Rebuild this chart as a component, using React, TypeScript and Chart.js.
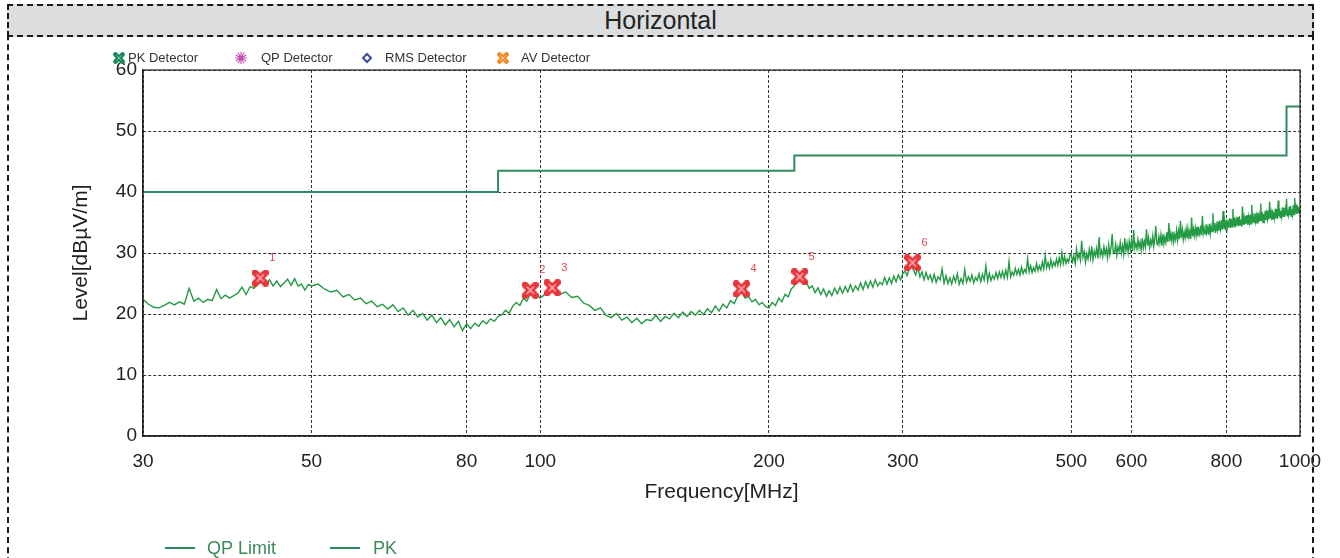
import React, { useEffect, useRef } from "react";
import { Chart, registerables } from "chart.js";

Chart.register(...registerables);

const FONT = "'Liberation Sans', Arial, Helvetica, sans-serif";

// ---------- data ----------
const xTickValues = [30, 50, 80, 100, 200, 300, 500, 600, 800, 1000];
const yMin = 0;
const yMax = 60;
const yStep = 10;

const limitFreqs = [30, 88, 216, 960, 1000];
const limitLevels = [40, 43.5, 46, 54, 54];

const markerFreqs = [42.8, 97.0, 103.7, 184.0, 219.5, 309.0];
const markerLevels = [25.9, 23.9, 24.3, 24.1, 26.1, 28.4];
const markerLabels = ["1", "2", "3", "4", "5", "6"];

const detectorLegend = ["PK Detector", "QP Detector", "RMS Detector", "AV Detector"];
const lineLegend = ["QP Limit", "PK"];

// PK trace: [frequency MHz, level dBµV/m]
const pkTrace: [number, number][] = [
  [30, 22.4], [30.5, 21.6], [31, 21.1], [31.5, 21.0], [32, 21.4], [32.5, 21.9], [33, 21.5], [33.5, 22.0],
  [34, 21.6], [34.5, 24.2], [35, 22.1], [35.5, 22.6], [36, 21.9], [36.5, 22.4], [37, 22.2], [37.5, 24.0],
  [38, 22.5], [38.5, 23.1], [39, 22.6], [39.5, 23.0], [40, 23.4], [40.5, 24.4], [41, 23.2], [41.5, 24.5],
  [42, 24.2], [42.5, 24.9], [43, 25.3], [43.5, 24.8], [44, 25.6], [44.5, 24.6], [45, 25.4], [45.5, 24.5],
  [46, 25.1], [46.5, 25.7], [47, 24.7], [47.5, 25.8], [48, 24.6], [48.5, 24.9], [49, 23.9], [49.5, 24.8],
  [50, 24.6],
  [51, 24.9], [52, 24.1], [53, 23.6], [54, 23.9], [55, 22.8], [56, 23.2], [57, 22.3], [58, 22.6],
  [59, 21.7], [60, 22.1], [61, 21.2], [62, 21.6], [63, 20.8], [64, 21.5], [65, 20.4], [66, 21.0],
  [67, 19.8], [68, 20.6], [69, 19.5], [70, 20.1], [71, 19.0], [72, 19.8], [73, 18.6], [74, 19.4],
  [75, 18.2], [76, 19.1], [77, 17.9], [78, 18.8], [79, 17.3], [80, 18.4], [81, 17.6], [82, 18.5],
  [83, 18.0], [84, 18.9], [85, 18.4], [86, 19.2], [87, 18.8], [88, 19.6], [89, 19.9], [90, 20.6],
  [91, 20.1], [92, 21.3], [93, 21.9], [94, 21.4], [95, 22.6], [96, 22.1], [97, 23.3], [98, 22.7],
  [99, 23.1], [100, 22.6],
  [102, 23.5], [104, 24.0], [106, 23.2], [108, 23.6], [110, 22.7], [112, 22.9], [114, 21.8], [116, 21.4],
  [118, 20.6], [120, 21.0], [122, 19.8], [124, 19.4], [126, 20.1], [128, 19.0], [130, 19.5], [132, 18.6],
  [134, 19.3], [136, 18.4], [138, 19.1], [140, 18.9], [142, 19.8], [144, 18.8], [146, 19.6], [148, 19.2],
  [150, 20.1], [152, 19.4], [154, 20.3], [156, 19.6], [158, 20.4], [160, 19.8], [162, 20.6], [164, 19.9],
  [166, 20.9], [168, 20.2], [170, 21.3], [172, 20.5], [174, 21.6], [176, 21.0], [178, 22.2], [180, 21.7],
  [182, 23.0], [184, 23.7], [186, 22.6], [188, 22.9], [190, 22.0], [192, 22.4], [194, 21.5], [196, 21.9],
  [198, 21.2], [200, 21.0],
  [202, 21.9], [204, 21.4], [206, 22.6], [208, 22.0], [210, 23.2], [212, 22.8], [214, 24.1], [216, 24.6],
  [218, 25.5], [220, 25.8], [222, 24.9], [224, 25.2], [226, 24.2], [228, 24.6], [230, 23.5], [232, 24.3],
  [234, 23.2], [236, 24.1], [238, 22.9], [240, 23.8], [242, 23.0], [244, 24.2], [246, 23.3], [248, 24.4],
  [250, 23.4], [252, 24.5], [254, 23.6], [256, 24.8], [258, 23.7], [260, 24.6], [262, 23.9], [264, 25.1],
  [266, 24.0], [268, 25.3], [270, 24.3], [272, 25.4], [274, 24.4], [276, 25.6], [278, 24.6], [280, 25.2],
  [282, 24.8], [284, 26.0], [286, 24.9], [288, 25.9], [290, 25.0], [292, 26.2], [294, 25.3], [296, 26.4],
  [298, 25.6],
  [300, 26.6], [302, 27.0], [304, 26.3], [306, 27.5], [308, 27.9], [310, 27.2], [312, 26.4], [314, 27.6],
  [316, 26.1], [318, 26.9], [320, 25.6], [322, 26.8], [324, 25.7], [326, 26.4], [328, 25.3], [330, 26.5],
  [332, 25.2], [334, 26.1], [336, 25.6], [338, 27.4], [340, 25.1], [342, 26.3], [344, 25.0], [346, 25.9],
  [348, 24.9], [350, 26.2], [352, 25.3], [354, 26.6], [356, 24.9], [358, 25.8], [360, 25.0], [362, 27.3],
  [364, 25.2], [366, 26.1], [368, 25.4], [370, 26.4], [372, 25.1], [374, 26.0], [376, 25.5], [378, 26.6],
  [380, 25.3], [382, 26.5], [384, 25.6], [386, 27.9], [388, 25.4], [390, 26.7], [392, 25.5], [394, 26.3],
  [396, 25.7], [398, 26.8], [400, 25.8], [402, 26.9], [404, 26.0], [406, 27.0], [408, 25.9], [410, 27.2],
  [412, 26.0], [414, 28.6], [416, 26.1], [418, 26.9], [420, 26.3], [422, 27.5], [424, 26.5], [426, 27.3],
  [428, 26.4], [430, 27.7], [432, 26.6], [434, 27.3], [436, 26.8], [438, 29.1], [440, 26.9], [442, 27.9],
  [444, 26.8], [446, 27.6], [448, 27.0], [450, 28.3], [452, 27.1], [454, 27.9], [456, 27.2], [458, 28.5],
  [460, 27.4], [462, 29.6], [464, 27.6], [466, 28.4], [468, 27.5], [470, 28.9], [472, 27.7], [474, 28.5],
  [476, 27.9], [478, 29.0], [480, 28.0], [482, 29.2], [484, 28.1], [486, 30.1], [488, 28.3], [490, 29.4],
  [492, 28.3], [494, 29.0], [496, 28.5], [498, 29.6],
  [500, 29.8], [502, 28.6], [504, 29.5], [506, 28.3], [508, 30.7], [510, 29.1], [512, 29.9], [514, 28.8],
  [516, 32.0], [518, 29.3], [520, 30.2], [522, 28.5], [524, 29.9], [526, 29.0], [528, 30.6], [530, 29.2],
  [532, 31.1], [534, 28.9], [536, 30.3], [538, 29.5], [540, 30.8], [542, 29.1], [544, 32.6], [546, 29.6],
  [548, 30.4], [550, 29.4], [552, 31.0], [554, 29.8], [556, 30.7], [558, 29.2], [560, 31.3], [562, 29.7],
  [564, 30.9], [566, 33.1], [568, 29.9], [570, 30.1], [572, 31.4], [574, 29.6], [576, 31.0], [578, 30.3],
  [580, 31.7], [582, 30.0], [584, 31.2], [586, 29.8], [588, 32.4], [590, 30.4], [592, 31.6], [594, 30.1],
  [596, 31.9], [598, 30.6], [600, 32.0], [602, 30.3], [604, 33.8], [606, 30.8], [608, 31.5], [610, 30.7],
  [612, 32.2], [614, 30.9], [616, 31.8], [618, 30.5], [620, 32.4], [622, 30.8], [624, 31.9], [626, 31.0],
  [628, 33.9], [630, 31.2], [632, 32.5], [634, 30.9], [636, 32.1], [638, 31.4], [640, 32.8], [642, 31.1],
  [644, 32.3], [646, 34.4], [648, 31.5], [650, 31.3], [652, 32.7], [654, 31.6], [656, 33.0], [658, 31.2],
  [660, 33.1], [662, 31.5], [664, 32.6], [666, 31.7], [668, 33.4], [670, 31.8], [672, 34.9], [674, 31.9],
  [676, 33.2], [678, 32.0], [680, 33.5], [682, 31.8], [684, 33.0], [686, 32.2], [688, 33.7], [690, 32.1],
  [692, 33.6], [694, 32.3], [696, 35.3], [698, 32.5], [700, 33.8], [702, 32.2], [704, 33.4], [706, 32.5],
  [708, 33.9], [710, 32.4], [712, 34.0], [714, 32.6], [716, 33.5], [718, 32.3], [720, 35.8], [722, 32.7],
  [724, 33.9], [726, 32.8], [728, 34.1], [730, 32.9], [732, 34.3], [734, 32.7], [736, 33.8], [738, 33.1],
  [740, 34.5], [742, 32.9], [744, 36.1], [746, 33.2], [748, 34.0], [750, 33.1], [752, 34.7], [754, 33.4],
  [756, 34.2], [758, 33.0], [760, 34.8], [762, 33.2], [764, 34.4], [766, 33.5], [768, 36.5], [770, 33.6],
  [772, 34.9], [774, 33.3], [776, 34.6], [778, 33.8], [780, 35.2], [782, 33.6], [784, 34.8], [786, 33.9],
  [788, 35.4], [790, 33.8], [792, 36.9], [794, 34.0], [796, 35.1], [798, 33.7], [800, 35.5], [802, 34.0],
  [804, 35.0], [806, 34.2], [808, 35.7], [810, 34.1], [812, 35.6], [814, 34.3], [816, 37.2], [818, 34.4],
  [820, 35.8], [822, 34.2], [824, 35.4], [826, 34.5], [828, 35.9], [830, 34.4], [832, 36.0], [834, 34.6],
  [836, 35.5], [838, 34.3], [840, 37.6], [842, 34.6], [844, 35.8], [846, 34.7], [848, 36.1], [850, 34.8],
  [852, 36.2], [854, 34.6], [856, 35.9], [858, 35.0], [860, 36.3], [862, 34.8], [864, 37.9], [866, 35.1],
  [868, 35.9], [870, 35.0], [872, 36.5], [874, 35.2], [876, 36.1], [878, 34.9], [880, 36.6], [882, 35.1],
  [884, 36.2], [886, 35.3], [888, 38.1], [890, 35.3], [892, 36.7], [894, 35.0], [896, 36.4], [898, 35.6],
  [900, 36.9], [902, 35.4], [904, 36.5], [906, 35.6], [908, 37.0], [910, 35.5], [912, 38.4], [914, 35.7],
  [916, 36.6], [918, 35.4], [920, 37.1], [922, 35.6], [924, 36.7], [926, 35.8], [928, 37.3], [930, 35.8],
  [932, 37.2], [934, 35.6], [936, 38.6], [938, 36.0], [940, 37.3], [942, 35.8], [944, 36.9], [946, 36.0],
  [948, 37.5], [950, 36.0], [952, 37.4], [954, 35.9], [956, 37.0], [958, 36.2], [960, 38.9], [962, 36.1],
  [964, 37.1], [966, 36.3], [968, 37.6], [970, 36.2], [972, 37.7], [974, 36.0], [976, 37.2], [978, 36.4],
  [980, 37.8], [982, 36.3], [984, 39.0], [986, 36.5], [988, 37.4], [990, 36.4], [992, 37.9], [994, 36.6],
  [996, 37.5], [998, 36.8], [1000, 37.4],
];

// ---------- drawing helpers ----------
function drawCrossMark(ctx: CanvasRenderingContext2D, x: number, y: number, s: number, color: string, inner: string) {
  ctx.save();
  ctx.lineCap = "round";
  ctx.strokeStyle = color;
  ctx.lineWidth = s * 0.42;
  const h = s * 0.33;
  ctx.beginPath();
  ctx.moveTo(x - h, y - h); ctx.lineTo(x + h, y + h);
  ctx.moveTo(x + h, y - h); ctx.lineTo(x - h, y + h);
  ctx.stroke();
  ctx.strokeStyle = inner;
  ctx.lineWidth = Math.max(1, s * 0.09);
  const k = s * 0.2;
  ctx.beginPath();
  ctx.moveTo(x - k, y - k); ctx.lineTo(x + k, y + k);
  ctx.moveTo(x + k, y - k); ctx.lineTo(x - k, y + k);
  ctx.stroke();
  ctx.restore();
}

function drawStar(ctx: CanvasRenderingContext2D, x: number, y: number, r: number, color: string) {
  ctx.save();
  ctx.strokeStyle = color;
  ctx.lineWidth = 1.1;
  ctx.beginPath();
  for (let i = 0; i < 6; i++) {
    const a = (Math.PI / 6) * i;
    ctx.moveTo(x - Math.cos(a) * r, y - Math.sin(a) * r);
    ctx.lineTo(x + Math.cos(a) * r, y + Math.sin(a) * r);
  }
  ctx.stroke();
  ctx.fillStyle = color;
  ctx.beginPath();
  ctx.arc(x, y, r * 0.35, 0, Math.PI * 2);
  ctx.fill();
  ctx.restore();
}

function drawDiamond(ctx: CanvasRenderingContext2D, x: number, y: number, r: number, color: string) {
  ctx.save();
  ctx.strokeStyle = color;
  ctx.lineWidth = 2;
  ctx.beginPath();
  ctx.moveTo(x, y - r); ctx.lineTo(x + r, y); ctx.lineTo(x, y + r); ctx.lineTo(x - r, y);
  ctx.closePath();
  ctx.stroke();
  ctx.restore();
}

const decorPlugin = {
  id: "decor",
  afterDatasetsDraw(chart: any) {
    const ctx: CanvasRenderingContext2D = chart.ctx;
    const meta = chart.getDatasetMeta(0);
    ctx.save();
    ctx.font = `11px ${FONT}`;
    ctx.fillStyle = "#e04848";
    ctx.textAlign = "center";
    ctx.textBaseline = "middle";
    meta.data.forEach((pt: any, i: number) => {
      ctx.fillText(markerLabels[i], pt.x + 12, pt.y - 20);
    });
    ctx.restore();
  },
  afterDraw(chart: any) {
    const ctx: CanvasRenderingContext2D = chart.ctx;
    const a = chart.chartArea;
    ctx.save();
    // plot frame
    ctx.strokeStyle = "#222";
    ctx.lineWidth = 1.2;
    ctx.strokeRect(a.left, a.top, a.right - a.left, a.bottom - a.top);

    // top detector legend
    ctx.font = `13px ${FONT}`;
    ctx.fillStyle = "#333";
    ctx.textBaseline = "middle";
    ctx.textAlign = "left";
    const ly = 58;
    const iconX = [119, 241, 367, 503];
    const textX = [128, 261, 385, 521];
    drawCrossMark(ctx, iconX[0], ly, 11, "#17865a", "#6fc79a");
    drawStar(ctx, iconX[1], ly, 6, "#c24bb5");
    drawDiamond(ctx, iconX[2], ly, 4, "#3a4aa0");
    drawCrossMark(ctx, iconX[3], ly, 11, "#f28a2a", "#fbc48a");
    detectorLegend.forEach((t, i) => ctx.fillText(t, textX[i], ly));

    // bottom line legend
    const by = 548;
    const lineX = [165, 330];
    const ltX = [207, 373];
    ctx.font = `18px ${FONT}`;
    lineLegend.forEach((t, i) => {
      ctx.strokeStyle = "#2e8b5e";
      ctx.lineWidth = 2;
      ctx.beginPath();
      ctx.moveTo(lineX[i], by);
      ctx.lineTo(lineX[i] + 30, by);
      ctx.stroke();
      ctx.fillStyle = "#3a8a5a";
      ctx.fillText(t, ltX[i], by + 1);
    });
    ctx.restore();
  },
};

export default function App() {
  const ref = useRef<HTMLCanvasElement | null>(null);

  useEffect(() => {
    if (!ref.current) return;
    const mk = document.createElement("canvas");
    mk.width = 17;
    mk.height = 17;
    const mctx = mk.getContext("2d")!;
    drawCrossMark(mctx, 8.5, 8.5, 16, "#e8353b", "#ffb3b3");

    const chart = new Chart(ref.current, {
      type: "line",
      data: {
        datasets: [
          {
            label: "Markers",
            data: markerFreqs.map((x, i) => ({ x, y: markerLevels[i] })),
            showLine: false,
            pointStyle: mk as any,
            pointRadius: 8,
            order: 0,
          } as any,
          {
            label: "QP Limit",
            data: limitFreqs.map((x, i) => ({ x, y: limitLevels[i] })),
            borderColor: "#2e8b5e",
            borderWidth: 2,
            stepped: true,
            pointRadius: 0,
            fill: false,
            order: 1,
          },
          {
            label: "PK",
            data: pkTrace.map(([x, y]) => ({ x, y })),
            borderColor: "#249a45",
            borderWidth: 1.4,
            pointRadius: 0,
            tension: 0,
            fill: false,
            order: 2,
          },
        ],
      },
      options: {
        responsive: false,
        animation: false,
        events: [],
        layout: { padding: { left: 69, right: 40, top: 70, bottom: 52 } },
        plugins: {
          legend: { display: false },
          tooltip: { enabled: false },
          title: { display: false },
        },
        scales: {
          x: {
            type: "logarithmic",
            min: 30,
            max: 1000,
            afterBuildTicks: (s: any) => {
              s.ticks = xTickValues.map((v) => ({ value: v }));
            },
            afterFit: (s: any) => {
              s.height = 70;
            },
            ticks: {
              autoSkip: false,
              maxRotation: 0,
              padding: 14,
              color: "#222",
              font: { family: FONT, size: 19 },
              callback: (v: any) => String(v),
            },
            grid: { color: "#333", lineWidth: 1, drawTicks: false },
            border: { display: true, color: "#222", width: 1.2, dash: [3, 2] },
            title: {
              display: true,
              text: "Frequency[MHz]",
              color: "#222",
              font: { family: FONT, size: 21 },
              padding: { top: 0, bottom: 1 },
            },
          },
          y: {
            type: "linear",
            min: yMin,
            max: yMax,
            afterFit: (s: any) => {
              s.width = 74;
            },
            ticks: {
              stepSize: yStep,
              padding: 6,
              color: "#222",
              font: { family: FONT, size: 19 },
            },
            grid: { color: "#333", lineWidth: 1, drawTicks: false },
            border: { display: true, color: "#222", width: 1.2, dash: [3, 2] },
            title: {
              display: true,
              text: "Level[dBµV/m]",
              color: "#222",
              font: { family: FONT, size: 21 },
              padding: { top: 0, bottom: 0 },
            },
          },
        },
      } as any,
      plugins: [decorPlugin as any],
    });
    return () => chart.destroy();
  }, []);

  return (
    <div
      style={{
        position: "absolute",
        left: 0,
        top: 0,
        width: 1340,
        height: 558,
        overflow: "hidden",
        background: "#fff",
        fontFamily: FONT,
      }}
    >
      <div
        style={{
          position: "absolute",
          left: 7,
          top: 4,
          width: 1307,
          height: 700,
          boxSizing: "border-box",
          border: "2px dashed #1a1a1a",
        }}
      />
      <div
        style={{
          position: "absolute",
          left: 7,
          top: 4,
          width: 1307,
          height: 33,
          boxSizing: "border-box",
          border: "2px dashed #1a1a1a",
          background: "#dcdddf",
          textAlign: "center",
          fontSize: 25,
          lineHeight: "29px",
          color: "#222",
        }}
      >
        Horizontal
      </div>
      <canvas
        ref={ref}
        width={1340}
        height={558}
        style={{ position: "absolute", left: 0, top: 0, width: 1340, height: 558 }}
      />
    </div>
  );
}
